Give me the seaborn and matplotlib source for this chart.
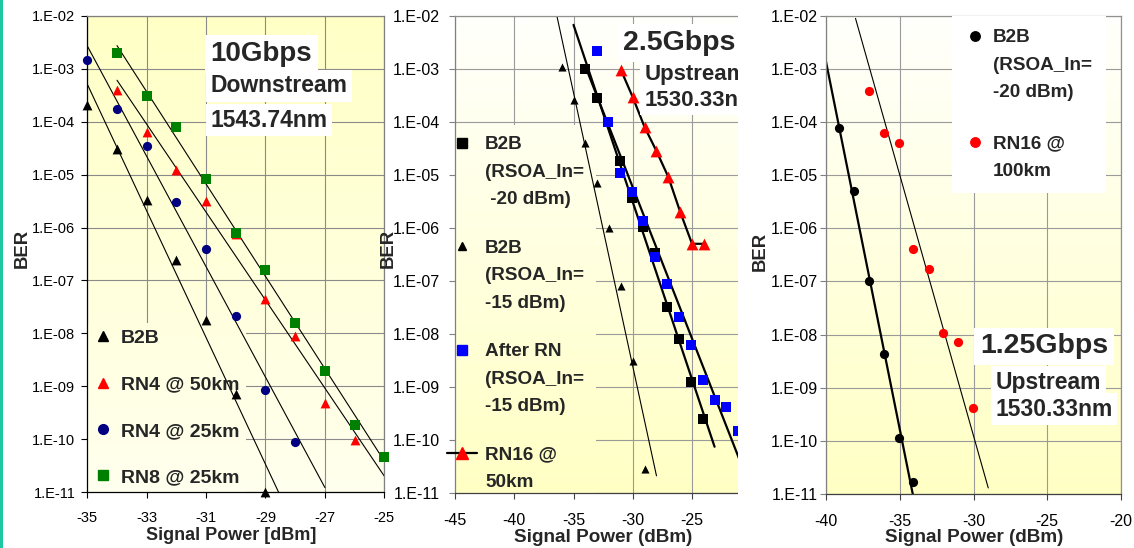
import numpy as np
import matplotlib
matplotlib.use("Agg")
import matplotlib.pyplot as plt
import seaborn as sns
from matplotlib.lines import Line2D
from matplotlib.patches import Rectangle
from matplotlib.transforms import IdentityTransform
from matplotlib.colors import LinearSegmentedColormap
from matplotlib.ticker import LogLocator, FixedLocator, FuncFormatter, NullLocator

# ---------------- 10 Gbps downstream, 1543.74 nm ----------------
dn_b2b_dbm = [-35, -34, -33, -32, -31, -30, -29]
dn_b2b_ber = [2.1e-4, 3.1e-5, 3.3e-6, 2.4e-7, 1.8e-8, 7.2e-10, 1.0e-11]
dn_rn4_50_dbm = [-34, -33, -32, -31, -30, -29, -28, -27, -26]
dn_rn4_50_ber = [3.9e-4, 6.3e-5, 1.2e-5, 3.2e-6, 7.5e-7, 4.4e-8, 9.0e-9, 4.9e-10, 9.8e-11]
dn_rn4_25_dbm = [-35, -34, -33, -32, -31, -30, -29, -28]
dn_rn4_25_ber = [1.45e-3, 1.75e-4, 3.5e-5, 3.1e-6, 3.9e-7, 2.1e-8, 8.6e-10, 9.0e-11]
dn_rn8_25_dbm = [-34, -33, -32, -31, -30, -29, -28, -27, -26, -25]
dn_rn8_25_ber = [1.95e-3, 3.05e-4, 7.8e-5, 8.1e-6, 8.0e-7, 1.6e-7, 1.6e-8, 1.95e-9, 1.9e-10, 4.7e-11]
dn_labels = ["B2B", "RN4 @ 50km", "RN4 @ 25km", "RN8 @ 25km"]
dn_xticks = [-35, -33, -31, -29, -27, -25]

# ---------------- 2.5 Gbps upstream, 1530.33 nm ----------------
up25_b2b20_dbm = [-34, -33, -31.1, -30.1, -29.1, -28.1, -27.1, -26.1, -25.1, -24.1]
up25_b2b20_ber = [1.0e-3, 2.8e-4, 1.8e-5, 3.6e-6, 1.03e-6, 3.3e-7, 3.2e-8, 8.0e-9, 1.25e-9, 2.5e-10]
up25_b2b15_dbm = [-36, -35, -34, -33, -32, -31, -30, -29]
up25_b2b15_ber = [1.1e-3, 2.6e-4, 3.9e-5, 7.1e-6, 9.8e-7, 8.1e-8, 3.1e-9, 2.8e-11]
up25_rn_dbm = [-33, -32.1, -31.1, -30.1, -29.1, -28.1, -27.1, -26.1, -25.1, -24.1, -23.1, -22.1, -21.1]
up25_rn_ber = [2.2e-3, 1.0e-4, 1.07e-5, 4.8e-6, 1.35e-6, 2.8e-7, 8.9e-8, 2.1e-8, 6.2e-9, 1.35e-9,
               5.7e-10, 4.2e-10, 1.45e-10]
up25_rn16_dbm = [-31, -30, -29, -28, -27, -26, -25, -24]
up25_rn16_ber = [9.5e-4, 2.9e-4, 7.9e-5, 2.8e-5, 9.1e-6, 2.0e-6, 5.0e-7, 5.0e-7]
up25_labels = ["B2B\n(RSOA_In=\n -20 dBm)", "B2B\n(RSOA_In=\n-15 dBm)",
               "After RN\n(RSOA_In=\n-15 dBm)", "RN16 @\n50km"]
up25_xticks = [-45, -40, -35, -30, -25, -20]

# ---------------- 1.25 Gbps upstream, 1530.33 nm ----------------
up125_b2b_dbm = [-39.1, -38.1, -37.1, -36.1, -35.05, -34.1]
up125_b2b_ber = [7.8e-5, 5.0e-6, 1.02e-7, 4.3e-9, 1.15e-10, 1.7e-11]
up125_rn16_dbm = [-37.1, -36.1, -35.05, -34.1, -33.05, -32.05, -31.05, -30.05]
up125_rn16_ber = [3.9e-4, 6.2e-5, 4.0e-5, 4.0e-7, 1.7e-7, 1.08e-8, 7.3e-9, 4.1e-10]
up125_rn16_guide_dbm = [-38.0, -29.0]
up125_rn16_guide_ber = [8.9e-3, 1.3e-11]
up125_labels = ["B2B\n(RSOA_In=\n-20 dBm)", "RN16 @\n100km"]
up125_xticks = [-40, -35, -30, -25, -20]

sns.set_theme(style="white")
plt.rcParams["font.family"] = ["Liberation Sans", "DejaVu Sans"]
plt.rcParams["axes.unicode_minus"] = False

W, H = 1134, 548
fig = plt.figure(figsize=(W / 100, H / 100), dpi=100, facecolor="white")


def px_axes(left, top, right, bottom):
    return fig.add_axes([left / W, 1 - bottom / H, (right - left) / W, (bottom - top) / H])


def ber_label(v, _):
    return f"1.E{int(round(np.log10(v))):+03d}"


def shade(ax, top, bottom, zorder=0):
    cmap = LinearSegmentedColormap.from_list("bg", [bottom, top])
    grad = np.linspace(0, 1, 256).reshape(-1, 1)
    im = ax.imshow(grad, cmap=cmap, aspect="auto", origin="lower", extent=(0, 1, 0, 1),
                   transform=ax.transAxes, zorder=zorder, interpolation="bilinear")
    return im


def style(ax, xticks, tick_pt, xpad, ypad, left_col, bottom_col, frame_col, grid_col, shade_cols):
    ax.set_facecolor("none")
    ax.set_yscale("log")
    shade(ax, *shade_cols)
    ax.set_xlim(xticks[0], xticks[-1])
    ax.set_ylim(1e-11, 1e-2)
    ax.xaxis.set_major_locator(FixedLocator(xticks))
    ax.xaxis.set_major_formatter(FuncFormatter(lambda v, _: f"{v:.0f}"))
    ax.yaxis.set_major_locator(LogLocator(base=10, numticks=20))
    ax.yaxis.set_minor_locator(NullLocator())
    ax.yaxis.set_major_formatter(FuncFormatter(ber_label))
    ax.grid(True, color=grid_col, lw=0.8)
    ax.set_axisbelow(True)
    ax.tick_params(axis="both", which="major", direction="out", length=4.3, width=0.8,
                   labelsize=tick_pt, labelcolor="black", bottom=True, left=True)
    ax.tick_params(axis="x", pad=xpad, color=bottom_col)
    ax.tick_params(axis="y", pad=ypad, color=left_col)
    ax.spines["left"].set_color(left_col)
    ax.spines["bottom"].set_color(bottom_col)
    for s in ("top", "right"):
        ax.spines[s].set_color(frame_col)
    for s in ax.spines.values():
        s.set_linewidth(0.9)


def dots(ax, dbm, ber, marker, color, size):
    sns.scatterplot(x=dbm, y=ber, ax=ax, marker=marker, color=color, s=size, linewidth=0,
                    legend=False, zorder=3, clip_on=False)


def fit_line(ax, dbm, ber, back, fwd, lw):
    x = np.asarray(dbm, float)
    k, c = np.polyfit(x, np.log10(ber), 1)
    xs = np.array([x.min() - back, x.max() + fwd])
    sns.lineplot(x=xs, y=10.0 ** (k * xs + c), ax=ax, color="black", lw=lw,
                 legend=False, zorder=2.5, estimator=None, sort=False)


def note(ax, x, y, text, size, clip=False):
    ax.text(x, y, text, transform=ax.transAxes, fontsize=size, fontweight="bold",
            ha="left", va="baseline", zorder=4, clip_on=clip,
            bbox=dict(boxstyle="square,pad=0.2", fc="white", ec="none"))


def make_legend(ax, handles, labels, anchor, size, hl, htp, bp, ls, face="none", lsp=None):
    leg = ax.legend(handles, labels, loc="upper left", bbox_to_anchor=anchor,
                    bbox_transform=ax.transAxes, borderaxespad=0, frameon=True, fancybox=False,
                    facecolor=face, edgecolor="none", framealpha=1,
                    prop={"weight": "bold", "size": size}, handlelength=hl, handletextpad=htp,
                    borderpad=bp, labelspacing=ls, numpoints=1)
    if lsp is not None:
        for t in leg.get_texts():
            t.set_linespacing(lsp)
        for column in leg._legend_handle_box.get_children():
            for item in column.get_children():
                item.align = "top"
    return leg


def mk(marker, color, ms, line=False):
    if line:
        return Line2D([], [], color="black", lw=1.6, marker=marker, markerfacecolor=color,
                      markeredgecolor=color, markersize=ms)
    return Line2D([], [], ls="none", marker=marker, markerfacecolor=color,
                  markeredgecolor=color, markersize=ms)


# ---------------- panel 1 ----------------
ax1 = px_axes(87.3, 15.7, 384.3, 492.3)
p1_shade = ("#FFFFC6", "#FFFFEE")
style(ax1, dn_xticks, 10.5, 8.9, 4.3, "black", "black", "#808080", "#8a8a8a", p1_shade)
fit_line(ax1, dn_b2b_dbm, dn_b2b_ber, 0, 1, 0.8)
fit_line(ax1, dn_rn4_50_dbm, dn_rn4_50_ber, 0, 1, 0.8)
fit_line(ax1, dn_rn4_25_dbm, dn_rn4_25_ber, 0, 1, 0.8)
fit_line(ax1, dn_rn8_25_dbm, dn_rn8_25_ber, 0, 1, 0.8)
dots(ax1, dn_b2b_dbm, dn_b2b_ber, "^", "black", 50)
dots(ax1, dn_rn4_50_dbm, dn_rn4_50_ber, "^", "#FF0000", 50)
dots(ax1, dn_rn4_25_dbm, dn_rn4_25_ber, "o", "#000080", 44)
dots(ax1, dn_rn8_25_dbm, dn_rn8_25_ber, "s", "#008000", 44)
ax1.set_xlabel("Signal Power [dBm]", fontsize=13, fontweight="bold")
ax1.set_ylabel("BER", fontsize=13.3, fontweight="bold")
ax1.xaxis.set_label_coords(0.484, -0.0735)
ax1.yaxis.set_label_coords(-0.190, 0.5126)
note(ax1, 0.4155, 0.905, "10Gbps", 20)
note(ax1, 0.4155, 0.8393, "Downstream", 16.5)
note(ax1, 0.4155, 0.767, "1543.74nm", 16.5)
leg1 = make_legend(ax1, [mk("^", "black", 7.5), mk("^", "#FF0000", 7.5), mk("o", "#000080", 7),
                         mk("s", "#008000", 7)], dn_labels, (0, 0.3544), 14, 1.0, 0.43, 0.31, 1.48)

# ---------------- panel 2 ----------------
ax2 = px_axes(455.0, 15.7, 751.3, 493.0)
p23_shade = ("#FFFFFC", "#FFFFC4")
style(ax2, up25_xticks, 11.5, 10.3, 6.5, "#808080", "#404040", "#909090", "#9a9a9a", p23_shade)
fit_line(ax2, up25_b2b15_dbm, up25_b2b15_ber, 1, 1, 0.8)
fit_line(ax2, up25_b2b20_dbm, up25_b2b20_ber, 1, 1, 1.6)
fit_line(ax2, up25_rn_dbm, up25_rn_ber, 1, 1, 1.6)
sns.lineplot(x=up25_rn16_dbm, y=up25_rn16_ber, ax=ax2, color="black", lw=1.6, legend=False,
             zorder=2.5, estimator=None, sort=False)
dots(ax2, up25_b2b15_dbm, up25_b2b15_ber, "^", "black", 34)
dots(ax2, up25_b2b20_dbm, up25_b2b20_ber, "s", "black", 46)
dots(ax2, up25_rn_dbm, up25_rn_ber, "s", "#0000FF", 48)
dots(ax2, up25_rn16_dbm, up25_rn16_ber, "^", "#FF0000", 72)
ax2.set_xlabel("Signal Power (dBm)", fontsize=13.6, fontweight="bold")
ax2.set_ylabel("BER", fontsize=13.3, fontweight="bold")
ax2.xaxis.set_label_coords(0.4996, -0.0755)
ax2.yaxis.set_label_coords(-0.196, 0.512)
note(ax2, 0.568, 0.928, "2.5Gbps", 20.5, clip=True)
note(ax2, 0.641, 0.865, "Upstream", 16, clip=True)
note(ax2, 0.641, 0.811, "1530.33nm", 16, clip=True)
leg2 = make_legend(ax2, [mk("s", "black", 7), mk("^", "black", 6.2), mk("s", "#0000FF", 7),
                         mk("^", "#FF0000", 8.5, line=True)], up25_labels,
                   (-0.065, 0.771), 13.6, 1.6, 0.42, 0.6, 1.66, lsp=1.81)

# ---------------- panel 3 ----------------
ax3 = px_axes(826.0, 15.7, 1121.0, 494.0)
style(ax3, up125_xticks, 11.5, 10.3, 1.5, "#808080", "#404040", "#909090", "#9a9a9a", p23_shade)
fit_line(ax3, up125_b2b_dbm, up125_b2b_ber, 1, 1, 1.6)
sns.lineplot(x=up125_rn16_guide_dbm, y=up125_rn16_guide_ber, ax=ax3, color="black", lw=0.8,
             legend=False, zorder=2.5, estimator=None, sort=False)
dots(ax3, up125_b2b_dbm, up125_b2b_ber, "o", "black", 44)
dots(ax3, up125_rn16_dbm, up125_rn16_ber, "o", "#FF0000", 44)
ax3.set_xlabel("Signal Power (dBm)", fontsize=13.6, fontweight="bold")
ax3.set_ylabel("BER", fontsize=13.3, fontweight="bold")
ax3.xaxis.set_label_coords(0.502, -0.0733)
ax3.yaxis.set_label_coords(-0.193, 0.5066)
note(ax3, 0.522, 0.294, "1.25Gbps", 20.5)
note(ax3, 0.575, 0.2195, "Upstream", 16.5)
note(ax3, 0.575, 0.1637, "1530.33nm", 16.5)
make_legend(ax3, [mk("o", "black", 6.8), mk("o", "#FF0000", 6.8)], up125_labels,
            (0.427, 1.0), 13.6, 1.0, 0.45, 0.72, 1.78, face="white", lsp=1.81)
ax3.set_zorder(2)

# white strip where the right panel's chart area overlaps the middle one
fig.add_artist(Rectangle((738.3 / W, 0), (790 - 738.3) / W, 1, transform=fig.transFigure,
                         facecolor="white", edgecolor="none", zorder=1))
fig.add_artist(Rectangle((0, 0), 2.5 / W, 1, transform=fig.transFigure,
                         facecolor="#1CC7A1", edgecolor="none", zorder=10))

# legend areas keep the plot shading but hide the grid behind them
fig.canvas.draw()
renderer = fig.canvas.get_renderer()
for ax, leg, cols in ((ax1, leg1, p1_shade), (ax2, leg2, p23_shade)):
    bb = leg.get_window_extent(renderer)
    im = shade(ax, *cols, zorder=0.6)
    im.set_clip_path(Rectangle((bb.x0, bb.y0), bb.width, bb.height, transform=IdentityTransform()))

for ax, ticks in ((ax1, dn_xticks), (ax2, up25_xticks)):
    ax.set_xlim(ticks[0], ticks[-1])
    ax.set_ylim(1e-11, 1e-2)

fig.savefig("out.png", dpi=100, facecolor="white")
